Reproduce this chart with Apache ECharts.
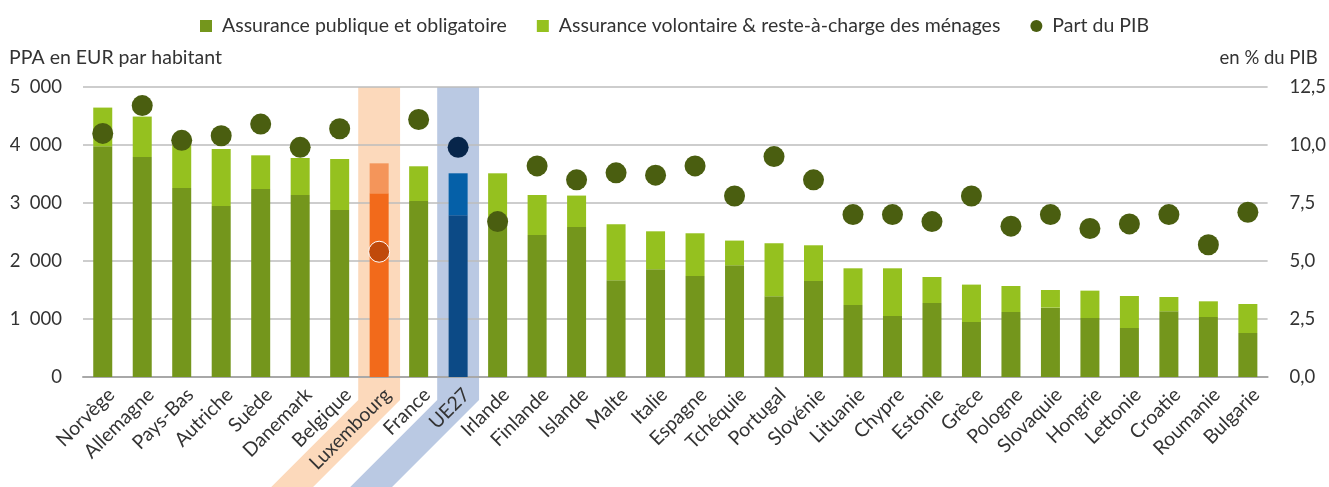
<!DOCTYPE html>
<html>
<head>
<meta charset="utf-8">
<script src="https://cdn.jsdelivr.net/npm/echarts@6/dist/echarts.min.js"></script>
<style>
    html, body { margin: 0; padding: 0; background: #fff; }
    #main { width: 1329px; height: 487px; }
</style>
</head>
<body>
<div id="main"></div>
<script>
    // pays, du plus haut au plus bas (PPA en EUR par habitant)
    var categories = ['Norvège', 'Allemagne', 'Pays-Bas', 'Autriche', 'Suède', 'Danemark', 'Belgique', 'Luxembourg', 'France', 'UE27',
        'Irlande', 'Finlande', 'Islande', 'Malte', 'Italie', 'Espagne', 'Tchéquie', 'Portugal', 'Slovénie', 'Lituanie',
        'Chypre', 'Estonie', 'Grèce', 'Pologne', 'Slovaquie', 'Hongrie', 'Lettonie', 'Croatie', 'Roumanie', 'Bulgarie'];
    var publique = [3978, 3793, 3259, 2948, 3241, 3138, 2879, 3167, 3034, 2788,
        2650, 2448, 2586, 1667, 1857, 1741, 1926, 1391, 1655, 1241,
        1052, 1276, 948, 1121, 1196, 1017, 845, 1133, 1034, 759];
    var volontaire = [667, 697, 741, 983, 581, 638, 880, 517, 599, 724,
        862, 690, 542, 966, 655, 737, 426, 914, 616, 633,
        822, 448, 645, 448, 304, 472, 552, 246, 271, 500];
    var partPib = [10.5, 11.7, 10.2, 10.4, 10.9, 9.9, 10.7, 5.4, 11.1, 9.9,
        6.7, 9.1, 8.5, 8.8, 8.7, 9.1, 7.8, 9.5, 8.5, 7.0,
        7.0, 6.7, 7.8, 6.5, 7.0, 6.4, 6.6, 7.0, 5.7, 7.1];
    var leftTicks = [0, 1000, 2000, 3000, 4000, 5000];
    var rightTicks = [0, 2.5, 5, 7.5, 10, 12.5];

    var FONT = 'Lato';
    var TXT = '#333';
    // couleurs spéciales Luxembourg / UE27
    var special = {
        'Luxembourg': { pub: '#f26a1b', vol: '#f4955a', dot: '#c04a0b', band: '#fcd9bb' },
        'UE27': { pub: '#0c4a86', vol: '#0560a8', dot: '#07254a', band: '#bac9e3' }
    };

    function colored(values, key) {
        return values.map(function (v, i) {
            var s = special[categories[i]];
            if (!s) return v;
            var item = { value: v, itemStyle: { color: s[key] } };
            if (key === 'dot') {
                item.itemStyle.borderColor = '#fff';
                item.itemStyle.borderWidth = categories[i] === 'Luxembourg' ? 1 : 0;
            }
            return item;
        });
    }

    var chartDom = document.getElementById('main');
    var myChart = echarts.init(chartDom);
    var option = {
        animation: false,
        textStyle: { fontFamily: FONT },
        legend: {
            left: 195,
            top: 11,
            itemWidth: 12,
            itemHeight: 12,
            itemGap: 30,
            textStyle: { fontFamily: FONT, fontSize: 19.5, color: TXT, padding: [0, 0, 0, 5] },
            data: [
                { name: 'Assurance publique et obligatoire', icon: 'rect' },
                { name: 'Assurance volontaire & reste-à-charge des ménages', icon: 'rect' },
                { name: 'Part du PIB', icon: 'circle' }
            ]
        },
        grid: {
            left: 83,
            right: 55,
            top: 87,
            bottom: 110
        },
        xAxis: [
            {
                type: 'category',
                data: categories,
                axisTick: { show: false },
                axisLine: { show: true, lineStyle: { color: '#a8a8a8', width: 2 } },
                axisLabel: {
                    rotate: 45,
                    interval: 0,
                    margin: 23,
                    padding: [0, -12, 0, 0],
                    fontFamily: FONT,
                    fontSize: 19.5,
                    color: TXT
                }
            }
        ],
        yAxis: [
            {
                type: 'value',
                min: leftTicks[0],
                max: leftTicks[leftTicks.length - 1],
                interval: 1000,
                name: 'PPA en EUR par habitant',
                nameLocation: 'end',
                nameGap: 19,
                nameTextStyle: { fontFamily: FONT, fontSize: 19.5, color: TXT, align: 'left', padding: [0, 0, 0, -74] },
                axisLine: { show: false },
                axisTick: { show: false },
                splitLine: { show: true, lineStyle: { color: '#bcbcbc', width: 1.5 } },
                axisLabel: {
                    margin: 21,
                    fontFamily: FONT,
                    fontSize: 18.5,
                    color: TXT,
                    formatter: function (v) {
                        return String(v).replace(/\B(?=(\d{3})+$)/g, '\u2002');
                    }
                }
            },
            {
                type: 'value',
                min: rightTicks[0],
                max: rightTicks[rightTicks.length - 1],
                interval: 2.5,
                name: 'en % du PIB',
                nameLocation: 'end',
                nameGap: 19,
                nameTextStyle: { fontFamily: FONT, fontSize: 18.5, color: TXT, align: 'right', padding: [0, -50, 0, 0] },
                axisLine: { show: false },
                axisTick: { show: false },
                splitLine: { show: false },
                axisLabel: {
                    margin: 22,
                    fontFamily: FONT,
                    fontSize: 18.5,
                    color: TXT,
                    formatter: function (v) {
                        return v.toFixed(1).replace('.', ',');
                    }
                }
            }
        ],
        series: [
            {
                name: 'Assurance publique et obligatoire',
                type: 'bar',
                stack: 'total',
                barWidth: 19,
                itemStyle: { color: '#74961c' },
                data: colored(publique, 'pub')
            },
            {
                name: 'Assurance volontaire & reste-à-charge des ménages',
                type: 'bar',
                stack: 'total',
                barWidth: 19,
                itemStyle: { color: '#95c11f' },
                data: colored(volontaire, 'vol')
            },
            {
                name: 'Part du PIB',
                type: 'scatter',
                yAxisIndex: 1,
                symbolSize: 21,
                itemStyle: { color: '#4a5e10', opacity: 1 },
                z: 5,
                data: colored(partPib, 'dot')
            }
        ]
    };

    option && myChart.setOption(option);

    // bandes Luxembourg / UE27 qui descendent en biais sous les libellés
    function bands() {
        var x0 = myChart.convertToPixel({ xAxisIndex: 0 }, categories[0]);
        var x1 = myChart.convertToPixel({ xAxisIndex: 0 }, categories[1]);
        var half = (x1 - x0) * 0.53;
        var top = myChart.convertToPixel({ yAxisIndex: 0 }, leftTicks[leftTicks.length - 1]);
        var base = myChart.convertToPixel({ yAxisIndex: 0 }, 0);
        var corner = base + 23;
        var bottom = myChart.getHeight();
        var shift = bottom - corner;
        var elements = [];
        Object.keys(special).forEach(function (name) {
            var x = myChart.convertToPixel({ xAxisIndex: 0 }, name);
            elements.push({
                type: 'polygon',
                z: -10,
                silent: true,
                shape: {
                    points: [
                        [x - half, top], [x + half, top], [x + half, corner],
                        [x + half - shift, bottom], [x - half - shift, bottom], [x - half, corner]
                    ]
                },
                style: { fill: special[name].band }
            });
        });
        myChart.setOption({ graphic: { elements: elements } });
    }
    bands();
</script>
</body>
</html>
